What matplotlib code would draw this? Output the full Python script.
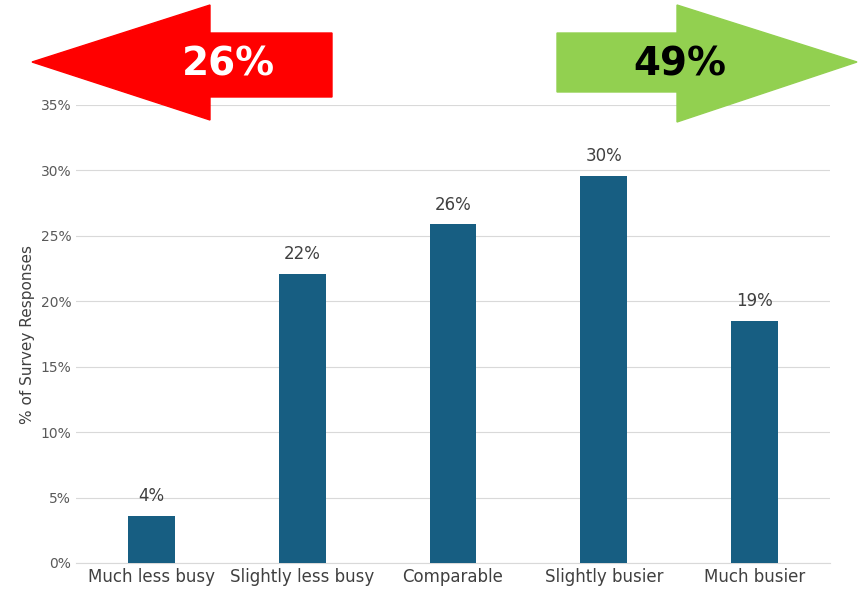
import matplotlib
matplotlib.use("Agg")
import matplotlib.pyplot as plt
from matplotlib.patches import Polygon

categories = ["Much less busy", "Slightly less busy", "Comparable", "Slightly busier", "Much busier"]
values = [3.6, 22.1, 25.9, 29.6, 18.5]
labels = ["4%", "22%", "26%", "30%", "19%"]
less_total = "26%"
more_total = "49%"

W, H = 865, 616
fig = plt.figure(figsize=(W / 100, H / 100), dpi=100)
ax = fig.add_axes([76 / W, 1 - 563 / H, (830 - 76) / W, (563 - 105) / H])

xs = range(len(categories))
ax.bar(xs, values, width=0.31, color="#175E82", zorder=3)
for x, v, t in zip(xs, values, labels):
    ax.text(x, v + 0.8, t, ha="center", va="bottom", fontsize=12, color="#404040")

ax.set_ylim(0, 35)
ax.set_xlim(-0.5, len(categories) - 0.5)
ax.set_yticks(range(0, 36, 5))
ax.set_yticklabels([f"{v}%" for v in range(0, 36, 5)], fontsize=10, color="#595959")
ax.set_xticks(list(xs))
ax.set_xticklabels(categories, fontsize=12, color="#404040")
ax.tick_params(length=0)
ax.grid(axis="y", color="#d9d9d9", linewidth=0.8, zorder=0)
for s in ["top", "right", "left"]:
    ax.spines[s].set_visible(False)
ax.spines["bottom"].set_color("#d9d9d9")
ax.set_ylabel("% of Survey Responses", fontsize=11, color="#404040")


def px(pts):
    return [(x / W, 1 - y / H) for x, y in pts]


red = [(32, 62), (210, 5), (210, 33), (332, 33), (332, 97), (210, 97), (210, 120)]
green = [(857, 62), (677, 5), (677, 33), (557, 33), (557, 92), (677, 92), (677, 122)]
fig.add_artist(Polygon(px(red), closed=True, transform=fig.transFigure, color="#FF0000"))
fig.add_artist(Polygon(px(green), closed=True, transform=fig.transFigure, color="#92D050"))
fig.text(228 / W, 1 - 65 / H, less_total, ha="center", va="center", fontsize=28,
         fontweight="bold", color="white")
fig.text(680 / W, 1 - 65 / H, more_total, ha="center", va="center", fontsize=28,
         fontweight="bold", color="black")

fig.savefig("out.png", dpi=100)
